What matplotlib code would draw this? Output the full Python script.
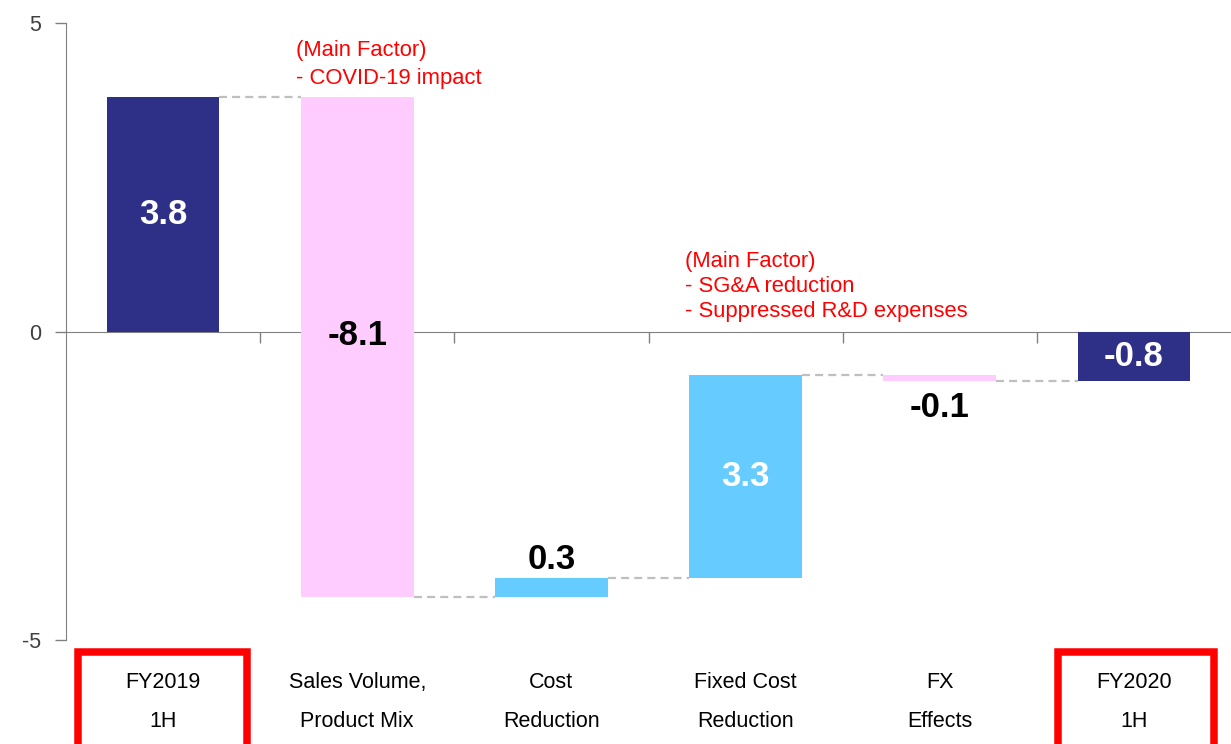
import matplotlib.pyplot as plt
import matplotlib.ticker as ticker
from matplotlib.patches import Rectangle

plt.rcParams['font.family'] = ['Liberation Sans', 'DejaVu Sans']
plt.rcParams['axes.unicode_minus'] = False

categories = ['FY2019\n1H', 'Sales Volume,\nProduct Mix', 'Cost\nReduction',
              'Fixed Cost\nReduction', 'FX\nEffects', 'FY2020\n1H']
values = [3.8, -8.1, 0.3, 3.3, -0.1, -0.8]
is_total = [True, False, False, False, False, True]
note_covid = '(Main Factor)\n- COVID-19 impact'
note_fixed = '(Main Factor)\n- SG&A reduction\n- Suppressed R&D expenses'

navy = '#2E3087'
pink = '#FFCCFF'
blue = '#66CCFF'
bar_colors = [navy, pink, blue, blue, pink, navy]
label_colors = ['white', 'black', 'black', 'white', 'black', 'white']
label_pos = ['mid', 'zero', 'above', 'mid', 'below', 'mid']
box_span = {0: (-0.44, 0.43), 5: (-0.39, 0.41)}
width = 0.58

fig = plt.figure(figsize=(12.31, 7.44), dpi=100)
ax = fig.add_axes([66 / 1231, 1 - 640 / 744, 1 - 66 / 1231, (640 - 23) / 744])

# waterfall: bottoms and running totals
bottoms = []
ends = []
running = 0
for v, tot in zip(values, is_total):
    if tot:
        bottoms.append(0)
        running = v
    else:
        bottoms.append(running)
        running = running + v
    ends.append(running)

x = list(range(len(values)))
ax.bar(x, values, bottom=bottoms, width=width, color=bar_colors, zorder=3)

# dashed connectors
for i in range(len(values) - 1):
    ax.plot([i + width / 2, i + 1 - width / 2], [ends[i], ends[i]],
            color='#BFBFBF', lw=1.6, dashes=[3.6, 2.3], zorder=2)

# value labels
for i, v in enumerate(values):
    txt = f'{v:.1f}'
    top = max(bottoms[i], bottoms[i] + v)
    low = min(bottoms[i], bottoms[i] + v)
    kw = dict(ha='center', fontsize=25, fontweight='bold', color=label_colors[i], zorder=4)
    if label_pos[i] == 'mid':
        ax.text(i, bottoms[i] + v / 2, txt, va='center', **kw)
    elif label_pos[i] == 'zero':
        ax.text(i, -0.07, txt, va='center', **kw)
    elif label_pos[i] == 'above':
        ax.annotate(txt, (i, top), xytext=(0, 1.5), textcoords='offset points', va='bottom', **kw)
    else:
        ax.annotate(txt, (i, low), xytext=(0, -7), textcoords='offset points', va='top', **kw)

# category labels under the chart
for i, lab in enumerate(categories):
    line1, line2 = lab.split('\n')
    ax.text(i, -5.69, line1, ha='center', va='center', fontsize=15.5, color='black', clip_on=False)
    ax.text(i, -6.32, line2, ha='center', va='center', fontsize=15.5, color='black', clip_on=False)

# red boxes around the totals
for i, (lo, hi) in box_span.items():
    ax.add_patch(Rectangle((i + lo, -7.0), hi - lo, 1.8, fill=False, edgecolor='#FF0000',
                           lw=5.4, clip_on=False, zorder=5))

ax.text(0.684, 4.72, note_covid, ha='left', va='top', fontsize=15.8, color='#FF0000', linespacing=1.45)
ax.text(2.69, 1.31, note_fixed, ha='left', va='top', fontsize=15.8, color='#FF0000', linespacing=1.27)

ax.set_xlim(-0.5, 5.5)
ax.set_ylim(-5, 5)
ax.set_yticks([-5, 0, 5])
ax.yaxis.set_major_formatter(ticker.FormatStrFormatter('%g'))
ax.tick_params(axis='y', length=8, width=1, color='#808080', pad=10, labelsize=15.5, labelcolor='#404040')

ax.spines['top'].set_visible(False)
ax.spines['right'].set_visible(False)
ax.spines['left'].set_color('#808080')
ax.spines['bottom'].set_position(('data', 0))
ax.spines['bottom'].set_color('#808080')
ax.set_xticks([])
ax.xaxis.set_minor_locator(ticker.FixedLocator([0.5, 1.5, 2.5, 3.5, 4.5]))
ax.tick_params(axis='x', which='minor', length=8, width=1, color='#808080', direction='out')

fig.savefig('out.png', dpi=100)
